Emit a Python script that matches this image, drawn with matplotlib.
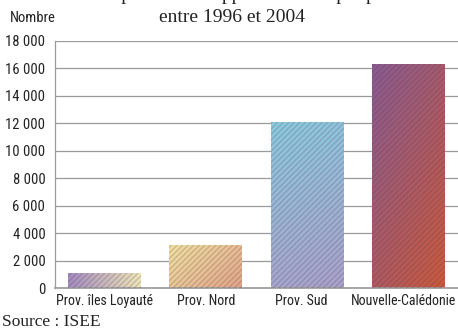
import numpy as np
import matplotlib
matplotlib.use("Agg")
import matplotlib.pyplot as plt
from matplotlib.colors import LinearSegmentedColormap
from matplotlib.ticker import FuncFormatter
from matplotlib.transforms import ScaledTranslation

categories = ["Prov. îles Loyauté", "Prov. Nord", "Prov. Sud", "Nouvelle-Calédonie"]
values = [1100, 3150, 12100, 16350]
yticks = list(range(0, 18001, 2000))

# gradient start/end colours and direction (dx, dy with y pointing down)
grad_start = ["#a48cc2", "#f0e3a2", "#8bcbe0", "#8a5c92"]
grad_end = ["#efe6b8", "#e2a488", "#aaa2cc", "#cc5a3c"]
grad_dir = [(1.0, 0.0), (0.8, 0.6), (0.15, 1.0), (0.6, 0.8)]

sans = ["Roboto Condensed", "Liberation Sans Narrow", "Liberation Sans"]
serif = ["Liberation Serif", "DejaVu Serif"]
ink = "#222222"

fig = plt.figure(figsize=(4.58, 3.32), dpi=100)
ax = fig.add_axes([55 / 458, 1 - 288 / 332, (458 - 55) / 458, (288 - 41) / 332])

x = np.arange(len(categories))
width = 0.72

ax.set_yticks(yticks)
ax.yaxis.set_major_formatter(FuncFormatter(lambda v, p: f"{int(v):,}".replace(",", " ")))
ax.grid(axis="y", color="#9a9a9a", linewidth=0.9)
ax.set_axisbelow(True)
for s in ["top", "right"]:
    ax.spines[s].set_visible(False)
ax.spines["left"].set_color("#9a9a9a")
ax.spines["left"].set_linewidth(0.9)
ax.spines["bottom"].set_color("#9a9a9a")
ax.spines["bottom"].set_linewidth(1.2)
ax.tick_params(length=0, labelsize=10.5, colors=ink)
ax.tick_params(axis="y", pad=7)
ax.tick_params(axis="x", pad=4, labelsize=10)
ax.set_xticks(x)
ax.set_xticklabels(categories, family=sans)
for lab in ax.get_yticklabels():
    lab.set_family(sans)
# nudge the last two category labels a little to the left
for lab, shift in zip(ax.get_xticklabels(), [0, 0, -6, -5]):
    lab.set_transform(lab.get_transform() + ScaledTranslation(shift / 100, 0, fig.dpi_scale_trans))

yy, xx = np.mgrid[0:1:120j, 0:1:120j]
for i, (xi, v) in enumerate(zip(x, values)):
    rect = ax.bar(xi, v, width, color="none", linewidth=0, zorder=2)[0]
    dx, dy = grad_dir[i]
    t = xx * dx + yy * dy
    t = (t - t.min()) / (t.max() - t.min())
    cmap = LinearSegmentedColormap.from_list(f"g{i}", [grad_start[i], grad_end[i]])
    im = ax.imshow(t, cmap=cmap, origin="upper", aspect="auto",
                   extent=(xi - width / 2, xi + width / 2, 0, v), zorder=2)
    im.set_clip_path(rect)
    # fine diagonal hatching over the gradient
    ax.bar(xi, v, width, color="none", edgecolor=(0.3, 0.2, 0.3, 0.22),
           hatch="//////", linewidth=0, zorder=3)

ax.set_xlim(-0.49, 3.49)
ax.set_ylim(0, 18000)

fig.text(10 / 458, 1 - 18 / 332, "Nombre", family=sans, fontsize=10.5,
         va="center", ha="left", color=ink)
fig.text(232 / 458, 1.0, "Nombre de personnes supplémentaires par province",
         family=serif, fontsize=14, va="baseline", ha="center", color=ink)
fig.text(232 / 458, 1 - 17 / 332, "entre 1996 et 2004", family=serif, fontsize=14,
         va="center", ha="center", color=ink)
fig.text(2 / 458, 1 - 322 / 332, "Source : ISEE", family=serif, fontsize=12.5,
         va="center", ha="left", color=ink)

fig.savefig("out.png", dpi=100)
